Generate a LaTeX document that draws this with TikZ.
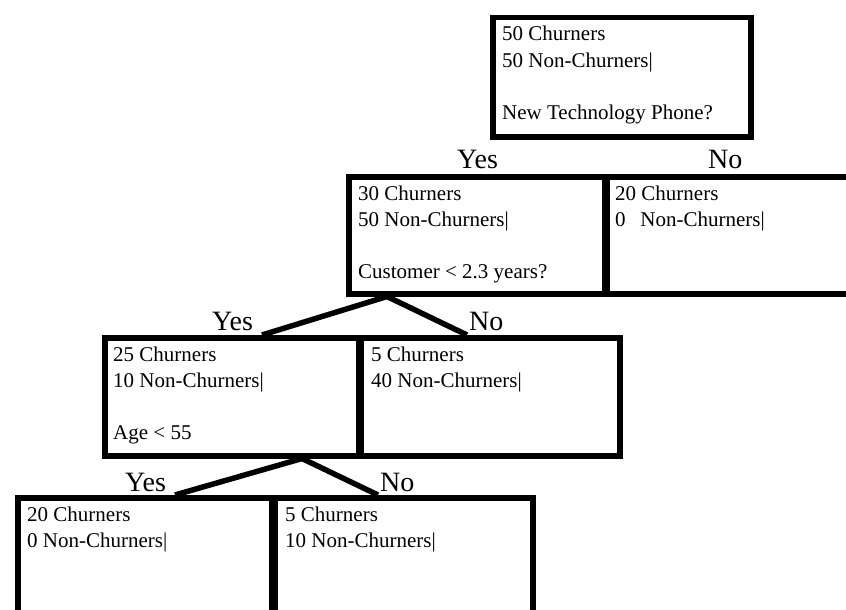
\documentclass[tikz,border=0pt]{standalone}
\usepackage{fontspec}
\setmainfont{Liberation Serif}
\usetikzlibrary{calc}
\begin{document}
\begin{tikzpicture}[x=1pt,y=-1pt,
  box/.style={draw,line width=5.5pt,rectangle,inner sep=0pt,anchor=north west},
  conn/.style={line width=5.5pt,line join=round},
  txt/.style={anchor=base west,inner sep=0pt,font=\fontsize{21}{25}\selectfont},
  lab/.style={anchor=base west,inner sep=0pt,font=\fontsize{28}{32}\selectfont}]
\useasboundingbox (0,0) rectangle (846,610);
\clip (0,0) rectangle (846,610);
% boxes
\node[box,minimum width=258pt,minimum height=119pt] (b1) at (490,15) {};
\node[box,minimum width=256pt,minimum height=117pt] (b2) at (346,174) {};
\node[box,minimum width=280pt,minimum height=117pt] (b3) at (604,174) {};
\node[box,minimum width=254pt,minimum height=118pt] (b4) at (102,335) {};
\node[box,minimum width=259pt,minimum height=118pt] (b5) at (358,335) {};
\node[box,minimum width=254pt,minimum height=140pt] (b6) at (15,495) {};
\node[box,minimum width=258pt,minimum height=140pt] (b7) at (272,495) {};
% texts
\node[txt] (t1a) at ($(b1.north west)+(12,26)$) {50 Churners};
\node[txt] (t1b) at ($(b1.north west)+(12,52)$) {50 Non-Churners|};
\node[txt] (t1c) at ($(b1.north west)+(12,104)$) {New Technology Phone?};
\node[txt] (t2a) at ($(b2.north west)+(12,26)$) {30 Churners};
\node[txt] (t2b) at ($(b2.north west)+(12,52)$) {50 Non-Churners|};
\node[txt] (t2c) at ($(b2.north west)+(12,104)$) {Customer < 2.3 years?};
\node[txt] (t3a) at ($(b3.north west)+(11,26)$) {20 Churners};
\node[txt] (t3b) at ($(b3.north west)+(11,52)$) {0\hspace{0.7em}Non-Churners|};
\node[txt] (t4a) at ($(b4.north west)+(11,26)$) {25 Churners};
\node[txt] (t4b) at ($(b4.north west)+(11,52)$) {10 Non-Churners|};
\node[txt] (t4c) at ($(b4.north west)+(11,104)$) {Age < 55};
\node[txt] (t5a) at ($(b5.north west)+(13,26)$) {5 Churners};
\node[txt] (t5b) at ($(b5.north west)+(13,52)$) {40 Non-Churners|};
\node[txt] (t6a) at ($(b6.north west)+(12,26)$) {20 Churners};
\node[txt] (t6b) at ($(b6.north west)+(12,52)$) {0 Non-Churners|};
\node[txt] (t7a) at ($(b7.north west)+(13,26)$) {5 Churners};
\node[txt] (t7b) at ($(b7.north west)+(13,52)$) {10 Non-Churners|};
% connectors
\coordinate (a2) at ($(b2.south west)+(41,0)$);
\coordinate (y2) at ($(b4.north west)+(160,0)$);
\coordinate (n2) at ($(b5.north west)+(109,0)$);
\draw[conn] (y2) -- (a2) -- (n2);
\coordinate (a3) at ($(b4.south west)+(200,0)$);
\coordinate (y3) at ($(b6.north west)+(160,0)$);
\coordinate (n3) at ($(b7.north west)+(106,0)$);
\draw[conn] (y3) -- (a3) -- (n3);
% labels
\node[lab] (l1y) at (457,168) {Yes};
\node[lab] (l1n) at (708,168) {No};
\node[lab] (l2y) at (212,330) {Yes};
\node[lab] (l2n) at (469,330) {No};
\node[lab] (l3y) at (125,491) {Yes};
\node[lab] (l3n) at (380,491) {No};
\end{tikzpicture}
\end{document}
